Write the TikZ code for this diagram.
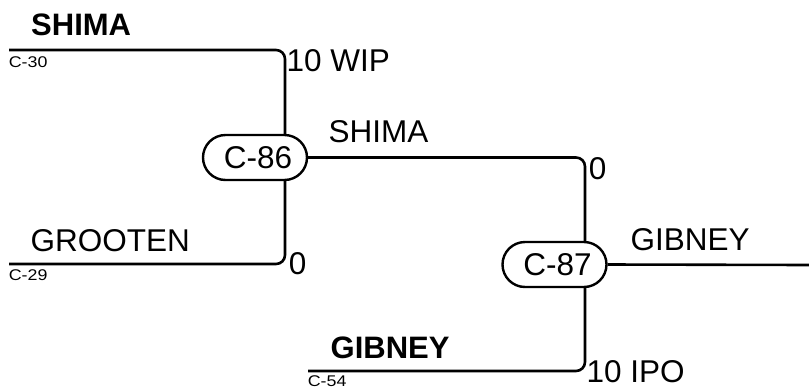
\documentclass[tikz,border=0pt]{standalone}
\usepackage{fontspec}
\setmainfont{Liberation Sans}
\usetikzlibrary{shapes.misc}
\begin{document}
\begin{tikzpicture}[x=1pt,y=-1pt,
  wire/.style={line width=2.6pt,rounded corners=9pt},
  cnode/.style={draw,line width=2.4pt,rounded rectangle,rounded rectangle arc length=180,
    minimum width=104pt,minimum height=45pt,inner sep=0pt,
    font=\fontsize{31.5}{36}\selectfont},
  lbl/.style={anchor=west,inner sep=0pt,font=\fontsize{31.5}{36}\selectfont},
  blbl/.style={anchor=west,inner sep=0pt,font=\fontsize{31}{36}\selectfont\bfseries},
  slbl/.style={anchor=west,inner sep=0pt,font=\fontsize{15.5}{18}\selectfont}]
\useasboundingbox (0,0) rectangle (809,389);
% nodes
\node[cnode] (c86) at (255,157.5) {\hspace*{6pt}C-86};
\node[cnode] (c87) at (554.5,264.5) {\hspace*{6pt}C-87};
% coordinates
\coordinate (s30) at (9,50);
\coordinate (s29) at (9,264);
\coordinate (s54) at (308,371);
\coordinate (v86) at (285,0);
\coordinate (v87) at (585,0);
\coordinate (e87) at (809,265);
% wires
\draw[wire] (s30) -- (s30 -| v86) -- (c86.north -| v86);
\draw[wire] (c86.south -| v86) -- (s29 -| v86) -- (s29);
\draw[wire] (c86.east) -- (c86.east -| v87) -- (c87.north -| v87);
\draw[wire] (c87.south -| v87) -- (s54 -| v87) -- (s54);
\draw[wire] (c87.east) -- (e87);
% labels
\node[blbl] (t1) at (31,24.5) {SHIMA};
\node[slbl] (t2) at (8.6,62.3) {\scalebox{1.15}[1]{C-30}};
\node[lbl] (t3) at (286.5,61) {10 WIP};
\node[lbl] (t4) at (328.5,132) {SHIMA};
\node[lbl] (t5) at (588.7,169) {0};
\node[lbl] (t6) at (30.5,240.5) {GROOTEN};
\node[slbl] (t7) at (8.6,275.5) {\scalebox{1.15}[1]{C-29}};
\node[lbl] (t8) at (288.7,263.5) {0};
\node[lbl] (t9) at (630.5,240) {GIBNEY};
\node[blbl] (t10) at (330.5,347.5) {GIBNEY};
\node[slbl] (t11) at (307.6,381.5) {\scalebox{1.15}[1]{C-54}};
\node[lbl] (t12) at (586.5,372) {10 IPO};
\end{tikzpicture}
\end{document}
